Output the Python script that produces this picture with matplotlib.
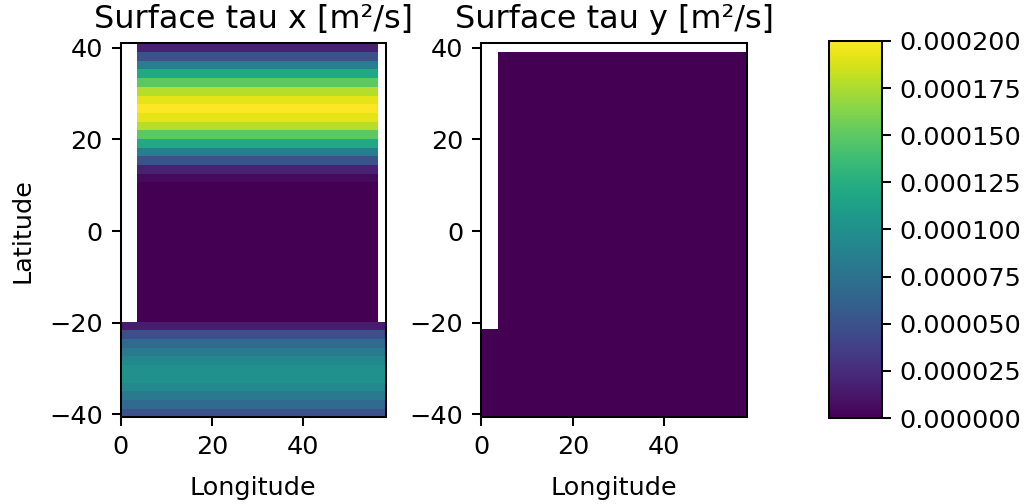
import numpy as np
import matplotlib
matplotlib.use("Agg")
import matplotlib.pyplot as plt
from matplotlib.ticker import FormatStrFormatter

# ---- data -------------------------------------------------------------
# tau x (u-points): latitude rows, bottom to top, 43 rows of ~1.9 deg
lat_edges_u = np.linspace(-40.7, 41.0, 44)
tau_x_rows = [
    0.000050, 0.000068, 0.000082, 0.000094, 0.000100, 0.000100, 0.000093,
    0.000082, 0.000068, 0.000048, 0.000015,                      # south band
    0, 0, 0, 0, 0, 0, 0, 0, 0, 0, 0, 0, 0, 0, 0, 0,              # zero band
    0.000005,
    0.000018, 0.000050, 0.000085, 0.000120, 0.000150, 0.000178, 0.000192,
    0.000200,
    0.000192, 0.000178, 0.000150, 0.000120, 0.000085, 0.000050, 0.000018,
]
# longitude edges for tau x: west land strip, ocean, east land strip
lon_edges_u = [0.0, 3.65, 56.4, 58.0]
land_lat_u = -19.8          # land strips exist north of this latitude

# tau y (v-points)
lon_edges_v = [0.0, 3.7, 58.0]
lat_edges_v = [-40.7, -21.35, 39.15, 41.0]
tau_y_value = 0.0

vmin, vmax = 0.0, 0.0002
cbar_ticks = [0.0, 0.000025, 0.00005, 0.000075, 0.0001, 0.000125,
              0.00015, 0.000175, 0.0002]
titles = ["Surface tau x [m\u00b2/s]", "Surface tau y [m\u00b2/s]"]

# ---- build fields -------------------------------------------------------
tx = np.repeat(np.array(tau_x_rows)[:, None], len(lon_edges_u) - 1, axis=1)
lat_c_u = 0.5 * (lat_edges_u[:-1] + lat_edges_u[1:])
north = lat_c_u > land_lat_u
tx[north, 0] = np.nan
tx[north, -1] = np.nan

ty = np.full((len(lat_edges_v) - 1, len(lon_edges_v) - 1), tau_y_value)
ty[1:, 0] = np.nan
ty[-1, :] = np.nan

# ---- figure -------------------------------------------------------------
DPI = 183.6
fig = plt.figure(figsize=(1034 / DPI, 504 / DPI), dpi=DPI)
ax1 = fig.add_axes([0.1167, 0.172, 0.2563, 0.742])
ax2 = fig.add_axes([0.4655, 0.172, 0.2567, 0.742])
cax = fig.add_axes([0.8017, 0.1706, 0.051, 0.7481])

m1 = ax1.pcolormesh(lon_edges_u, lat_edges_u, np.ma.masked_invalid(tx),
                    cmap="viridis", vmin=vmin, vmax=vmax)
m2 = ax2.pcolormesh(lon_edges_v, lat_edges_v, np.ma.masked_invalid(ty),
                    cmap="viridis", vmin=vmin, vmax=vmax)

for ax, t in zip((ax1, ax2), titles):
    ax.set_xlim(0, 58)
    ax.set_ylim(-40.7, 41.0)
    ax.set_xticks([0, 20, 40])
    ax.set_yticks([-40, -20, 0, 20, 40])
    ax.set_title(t, fontsize=12.5)
    ax.set_xlabel("Longitude", labelpad=6.5)
ax1.set_ylabel("Latitude", labelpad=5.5)

cb = fig.colorbar(m1, cax=cax, ticks=cbar_ticks, format=FormatStrFormatter("%.6f"))

fig.savefig("out.png", dpi=DPI)
